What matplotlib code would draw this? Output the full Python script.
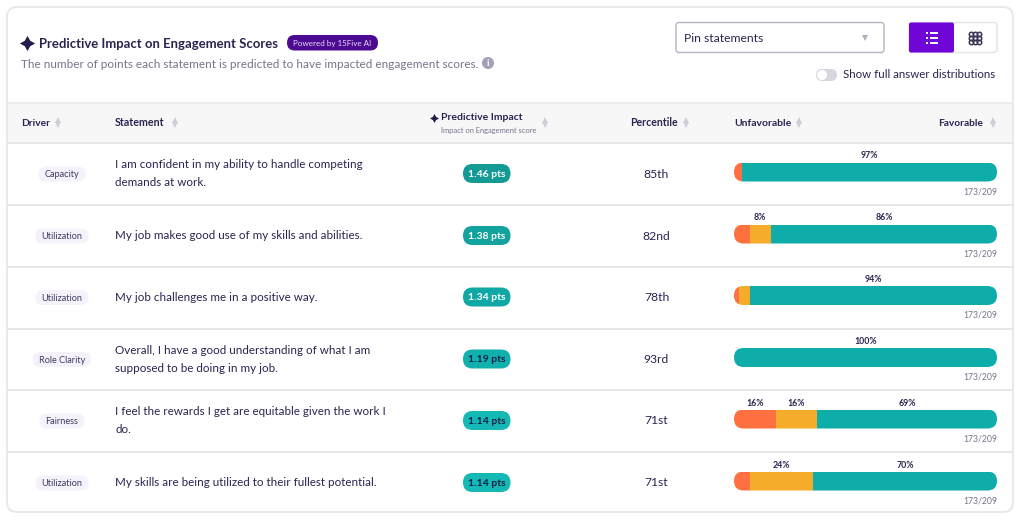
import matplotlib
matplotlib.use('Agg')
import matplotlib.pyplot as plt
from matplotlib.patches import FancyBboxPatch, Rectangle, Circle

drivers = ['Capacity', 'Utilization', 'Utilization', 'Role Clarity', 'Fairness', 'Utilization']
statements = [
    'I am confident in my ability to handle competing\ndemands at work.',
    'My job makes good use of my skills and abilities.',
    'My job challenges me in a positive way.',
    'Overall, I have a good understanding of what I am\nsupposed to be doing in my job.',
    'I feel the rewards I get are equitable given the work I\ndo.',
    'My skills are being utilized to their fullest potential.',
]
impact = [1.46, 1.38, 1.34, 1.19, 1.14, 1.14]
percentile = ['85th', '82nd', '78th', '93rd', '71st', '71st']
unfavorable = [3, 6, 2, 0, 16, 6]
neutral = [0, 8, 4, 0, 16, 24]
favorable = [97, 86, 94, 100, 69, 70]
responses = ['173/209'] * 6
header_labels = ['Driver', 'Statement', 'Percentile', 'Unfavorable']

plt.rcParams['font.family'] = ['Lato', 'DejaVu Sans']

INK = '#2a2450'
GREY = '#77748c'
LINE = '#e3e3e8'
ORANGE = '#ff7040'
YELLOW = '#f5ac2b'
TEAL = '#0fadaa'
PURPLE = '#6f05d6'
BAR_LEFT, BAR_RIGHT = 734, 997

fig = plt.figure(figsize=(10.2, 5.21), dpi=100)
ax = fig.add_axes([0, 0, 1, 1])
ax.set_xlim(0, 1020)
ax.set_ylim(521, 0)
ax.axis('off')
renderer = fig.canvas.get_renderer()


def pill(x0, y0, x1, y1, color, edge='none', r=None, lw=1, z=2):
    r = (y1 - y0) / 2 if r is None else r
    p = FancyBboxPatch((x0 + r, y0 + r), x1 - x0 - 2 * r, y1 - y0 - 2 * r,
                       boxstyle=f'round,pad={r}', fc=color, ec=edge, lw=lw, zorder=z)
    ax.add_patch(p)
    return p


def sort_icon(x, y):
    ax.plot([x], [y - 2.8], marker='^', ms=4.4, color='#cfced8', mew=0, zorder=3)
    ax.plot([x], [y + 2.8], marker='v', ms=4.4, color='#cfced8', mew=0, zorder=3)


# card and header band
pill(7, 7, 1013, 512, 'white', edge='#e9e9ec', r=10, lw=1.5, z=1)
ax.add_patch(Rectangle((8, 103), 1004, 39, fc='#f7f7f8', ec='none', zorder=1.5))
ax.plot([8, 1012], [103, 103], color='#ebebee', lw=1.2, zorder=2)
ax.plot([8, 1012], [142.5, 142.5], color=LINE, lw=1.2, zorder=2)

# title block
ax.plot([27], [42.5], marker=(4, 1, 0), ms=11, color='#241c4c', mew=0, zorder=3)
ax.text(39.5, 43.8, 'Predictive Impact on Engagement Scores', fontsize=9.45, color=INK,
        fontweight='bold', va='center', ha='left', zorder=3)
pill(287, 35, 378, 50.5, '#4c0a93')
ax.text(332.5, 43.2, 'Powered by 15Five AI', fontsize=5.8, color='#e8dcf7', va='center', ha='center', zorder=3)
ax.text(21, 64.8, 'The number of points each statement is predicted to have impacted engagement scores.',
        fontsize=8.5, color=GREY, va='center', ha='left', zorder=3)
ax.add_patch(Circle((488, 63), 6, fc='#a3a1b5', ec='none', zorder=3))
ax.text(488, 63.5, 'i', fontsize=7.5, color='white', fontweight='bold', va='center', ha='center', zorder=4)

# pin dropdown
pill(676, 22.5, 884, 52.5, 'white', edge='#bcbbc8', r=3, lw=1.1)
ax.text(684, 38.8, 'Pin statements', fontsize=8.7, color=INK, va='center', ha='left', zorder=3)
ax.plot([865], [38], marker='v', ms=4.5, color='#b0afbc', mew=0, zorder=3)

# view switch
pill(909, 22.5, 997, 52.5, 'white', edge='#e2e2e8', r=3, lw=1)
pill(909, 22.5, 954, 52.5, PURPLE, r=2)
for yy in (33, 38, 42.5):
    ax.plot([926.5, 928.5], [yy, yy], color='white', lw=1.4, solid_capstyle='butt', zorder=4)
    ax.plot([930.5, 938], [yy, yy], color='white', lw=1.4, solid_capstyle='butt', zorder=4)
for xx in (971.5, 975.3, 979):
    for yy in (33.5, 37.5, 41.5):
        ax.plot([xx], [yy], marker='o', ms=3.2, mfc='none', mec='#3a3555', mew=1.1, zorder=4)

# toggle
pill(816, 69, 837, 81, '#d8d7e0')
ax.add_patch(Circle((822, 75), 5, fc='white', ec='none', zorder=3))
ax.text(843, 75, 'Show full answer distributions', fontsize=8.3, color=INK, va='center', ha='left', zorder=3)

# table header
ax.text(21, 123, header_labels[0], fontsize=7.3, color=INK, fontweight='bold', va='center', zorder=3)
sort_icon(58, 122.5)
ax.text(115, 123, header_labels[1], fontsize=7.7, color=INK, fontweight='bold', va='center', zorder=3)
sort_icon(175, 122.5)
ax.plot([434.5], [117.5], marker=(4, 1, 0), ms=6.5, color='#241c4c', mew=0, zorder=3)
ax.text(441.5, 118, 'Predictive Impact', fontsize=7.5, color=INK, fontweight='bold', va='center', zorder=3)
ax.text(441.5, 131, 'Impact on Engagement score', fontsize=5.4, color=GREY, va='center', zorder=3)
sort_icon(545.5, 122.5)
ax.text(630, 123, header_labels[2], fontsize=7.6, color=INK, fontweight='bold', va='center', zorder=3)
sort_icon(686, 122.5)
ax.text(734, 123, header_labels[3], fontsize=7.5, color=INK, fontweight='bold', va='center', zorder=3)
sort_icon(799, 122.5)
ax.text(983, 123, 'Favorable', fontsize=7.3, color=INK, fontweight='bold', va='center', ha='right', zorder=3)
sort_icon(993, 122.5)

# bar axes shares the pixel y range of the page, x runs in percent
bar_ax = fig.add_axes([BAR_LEFT / 1020, 0, (BAR_RIGHT - BAR_LEFT) / 1020, 1], zorder=5)
bar_ax.set_xlim(0, 100)
bar_ax.set_ylim(521, 0)
bar_ax.axis('off')
bar_ax.patch.set_alpha(0)

row_lines = [204.5, 266.5, 328.5, 390, 451.5]
centers = [172, 234, 295.5, 357.5, 419, 481]
badge_colors = ['#149a94', '#12a39e', '#10a8a4', '#10b0ac', '#14b8b4', '#14b8b4']
badge_text = ['white', 'white', 'white', '#12204a', '#12204a', '#12204a']

for y in row_lines:
    ax.plot([8, 1012], [y, y], color=LINE, lw=1.2, zorder=2)

for i, cy in enumerate(centers):
    # driver tag, sized from its text
    tag = ax.text(62, cy + 2.8, drivers[i], fontsize=6.6, color='#3f3a60', va='center', ha='center', zorder=3)
    w = tag.get_window_extent(renderer).width + 12
    pill(62 - w / 2, cy - 5.5, 62 + w / 2, cy + 9.5, '#f5f2fc')
    # statement
    ax.text(115.5, cy + 1.8, statements[i], fontsize=8.35, color=INK, va='center', ha='left',
            linespacing=1.8, zorder=3)
    # impact badge
    pill(463, cy - 8, 510.5, cy + 11, badge_colors[i])
    ax.text(486.7, cy + 2.2, f'{impact[i]:.2f} pts', fontsize=7.5, color=badge_text[i],
            fontweight='bold', va='center', ha='center', zorder=3)
    # percentile
    ax.text(656.5, cy + 2, percentile[i], fontsize=8.7, color=INK, va='center', ha='center', zorder=3)

    # stacked bar, normalised since rounded labels can sum to 101
    total = unfavorable[i] + neutral[i] + favorable[i]
    parts = [v * 100 / total for v in (unfavorable[i], neutral[i], favorable[i])]
    clip = pill(BAR_LEFT, cy - 9.5, BAR_RIGHT, cy + 9.5, 'none')
    left = 0
    for val, shown, col in zip(parts, (unfavorable[i], neutral[i], favorable[i]), (ORANGE, YELLOW, TEAL)):
        if val == 0:
            continue
        bars = bar_ax.barh([cy], [val], left=left, height=19, color=col, linewidth=0)
        bars[0].set_clip_path(clip)
        if shown >= 8:
            bar_ax.text(left + val / 2, cy - 16, f'{shown}%', fontsize=6.3, color=INK,
                        va='center', ha='center', fontweight='bold')
        left += val
    ax.text(997, cy + 20, responses[i], fontsize=6.2, color=GREY, va='center', ha='right', zorder=3)

fig.savefig('out.png', dpi=100)
